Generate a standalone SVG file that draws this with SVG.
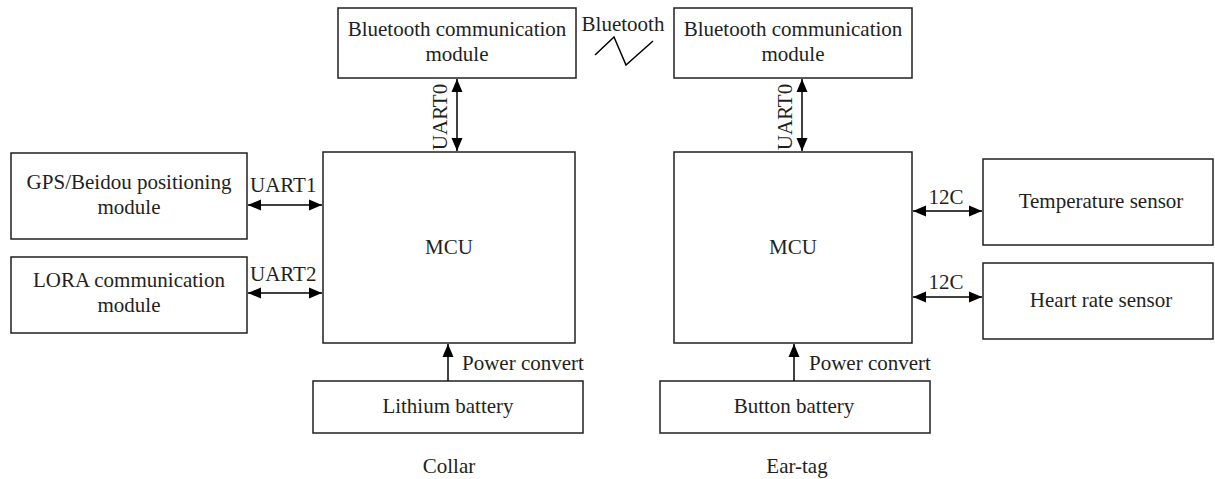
<svg xmlns="http://www.w3.org/2000/svg" width="1215" height="479" viewBox="0 0 1215 479">
<style>
.box{fill:#fff;stroke:#231f20;stroke-width:1.5}
.t{font-family:"Liberation Serif","Times New Roman",serif;font-size:21px;fill:#231f20;text-anchor:middle}
.ts{font-family:"Liberation Serif","Times New Roman",serif;font-size:21px;fill:#231f20;text-anchor:start}
.c{stroke:#000;stroke-width:1.5;fill:none}
</style>
<defs>
<marker id="ah" markerUnits="userSpaceOnUse" markerWidth="14" markerHeight="12" refX="13" refY="6" orient="auto-start-reverse">
<path d="M0,0.5 L13,6 L0,11.5 z" fill="#000"/>
</marker>
</defs>
<rect width="1215" height="479" fill="#fff"/>
<g id="bt-left"><rect class="box" x="338" y="8" width="238" height="70"/><text class="t" x="457" y="36">Bluetooth communication</text><text class="t" x="457" y="61">module</text></g>
<g id="bt-right"><rect class="box" x="674" y="8" width="238" height="70"/><text class="t" x="793" y="36">Bluetooth communication</text><text class="t" x="793" y="61">module</text></g>
<g id="mcu-left"><rect class="box" x="323" y="152" width="252" height="191"/><text class="t" x="449" y="254">MCU</text></g>
<g id="mcu-right"><rect class="box" x="674" y="152" width="238" height="191"/><text class="t" x="793" y="254">MCU</text></g>
<g id="gps"><rect class="box" x="11" y="153" width="236" height="86"/><text class="t" x="129" y="189">GPS/Beidou positioning</text><text class="t" x="129" y="214">module</text></g>
<g id="lora"><rect class="box" x="11" y="257" width="236" height="76"/><text class="t" x="129" y="287">LORA communication</text><text class="t" x="129" y="312">module</text></g>
<g id="temp"><rect class="box" x="983" y="159" width="230" height="86"/><text class="t" x="1101" y="208">Temperature sensor</text></g>
<g id="heart"><rect class="box" x="983" y="263" width="230" height="76"/><text class="t" x="1101" y="307">Heart rate sensor</text></g>
<g id="lithium"><rect class="box" x="313" y="381" width="270" height="52"/><text class="t" x="448" y="413">Lithium battery</text></g>
<g id="button"><rect class="box" x="660" y="381" width="270" height="52"/><text class="t" x="794" y="413">Button battery</text></g>
<g id="connectors">
<line class="c" x1="457" y1="79" x2="457" y2="151" marker-start="url(#ah)" marker-end="url(#ah)"/>
<line class="c" x1="802" y1="79" x2="802" y2="151" marker-start="url(#ah)" marker-end="url(#ah)"/>
<line class="c" x1="248" y1="205" x2="322" y2="205" marker-start="url(#ah)" marker-end="url(#ah)"/>
<line class="c" x1="248" y1="293" x2="322" y2="293" marker-start="url(#ah)" marker-end="url(#ah)"/>
<line class="c" x1="913" y1="211" x2="982" y2="211" marker-start="url(#ah)" marker-end="url(#ah)"/>
<line class="c" x1="913" y1="297" x2="982" y2="297" marker-start="url(#ah)" marker-end="url(#ah)"/>
<line class="c" x1="448" y1="381" x2="448" y2="344" marker-end="url(#ah)"/>
<line class="c" x1="794" y1="381" x2="794" y2="344" marker-end="url(#ah)"/>
<polyline class="c" points="595,55 614,37 626,65 653,41"/>
</g>
<g id="labels">
<text class="t" x="623" y="31">Bluetooth</text>
<text class="t" transform="translate(447,117) rotate(-90)">UART0</text>
<text class="t" transform="translate(792,117) rotate(-90)">UART0</text>
<text class="ts" x="250" y="192">UART1</text>
<text class="ts" x="250" y="281">UART2</text>
<text class="t" x="946" y="204">12C</text>
<text class="t" x="946" y="289">12C</text>
<text class="ts" x="462" y="370">Power convert</text>
<text class="ts" x="809" y="370">Power convert</text>
<text class="t" x="449" y="473">Collar</text>
<text class="t" x="797" y="473">Ear-tag</text>
</g>
</svg>
